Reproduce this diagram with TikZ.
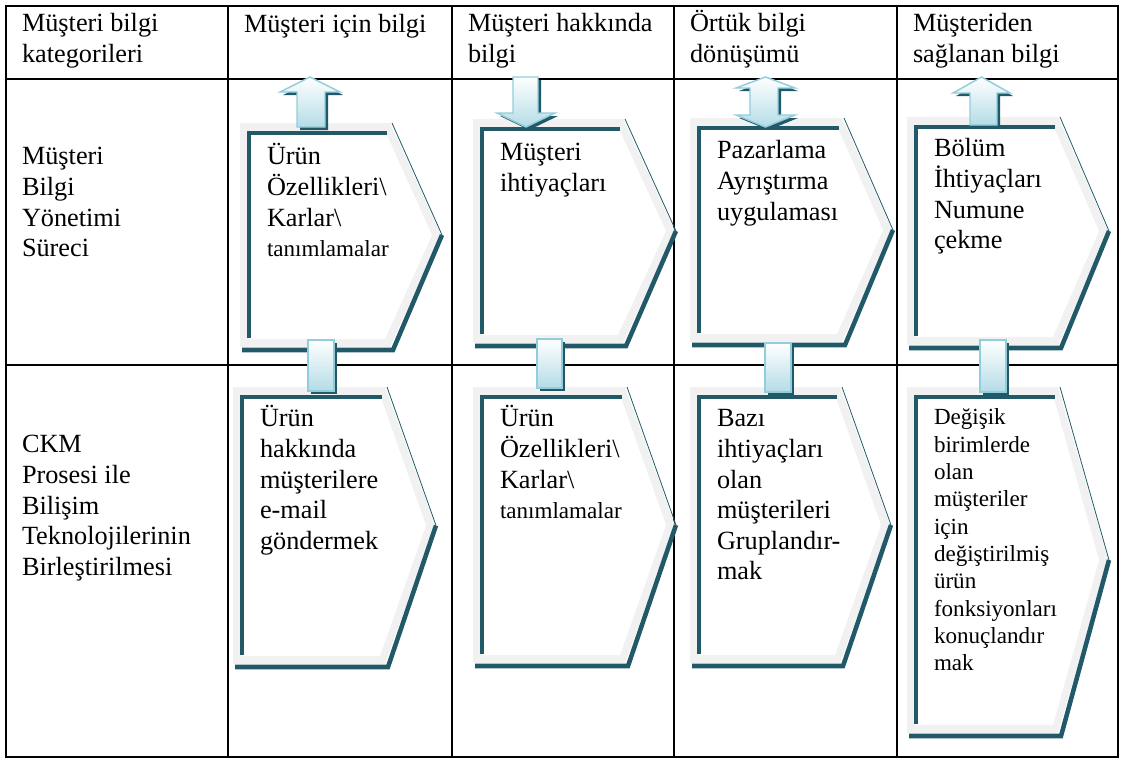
\documentclass[tikz,border=0pt]{standalone}
\usepackage{fontspec}
\setmainfont{Liberation Serif}
\definecolor{framegray}{HTML}{F1F1F1}
\definecolor{tealdark}{HTML}{215968}
\definecolor{arrowblue}{HTML}{B4DCE7}
\definecolor{arrowedge}{HTML}{92CDDC}

% chevron panel: left, top, flat right, tip x, bottom (outer edge of the grey frame)
\newcommand\chevbox[5]{%
  \pgfmathsetmacro\chmid{(#2+#5)/2}%
  \fill[framegray] (#1,#2) -- (#3,#2) -- (#4,\chmid) -- (#3,#5) -- (#1,#5) -- cycle;
  \fill[white] ({#1+8},{#2+8}) -- ({#3-5},{#2+8}) -- ({#4-9},\chmid) -- ({#3-5},{#5-8}) -- ({#1+8},{#5-8}) -- cycle;
  \draw[tealdark, line width=2.3pt, line join=miter] ({#1+9},{#5-9}) -- ({#1+9},{#2+10}) -- ({#3-3},{#2+10});
  \draw[tealdark, line width=0.6pt] ({#3+2},#2) -- ({#4+1},\chmid);
  \draw[tealdark, line width=3.4pt, line join=miter] ({#4+1},\chmid) -- ({#3+3},{#5+3}) -- ({#1+2},{#5+3});
}
% up arrow: shaft left, shaft right, head left, head right, tip y, head base y, shaft bottom y
\newcommand\arrowup[7]{%
  \pgfmathsetmacro\amid{(#3+#4)/2}%
  \fill[tealdark] ({#1+3},{#7+3}) -- ({#1+3},{#6+3}) -- ({#3+3},{#6+3}) -- ({\amid+3},{#5+3}) -- ({#4+3},{#6+3}) -- ({#2+3},{#6+3}) -- ({#2+3},{#7+3}) -- cycle;
  \shadedraw[arrowfill] (#1,#7) -- (#1,#6) -- (#3,#6) -- (\amid,#5) -- (#4,#6) -- (#2,#6) -- (#2,#7) -- cycle;
}
% down arrow: shaft left, shaft right, head left, head right, shaft top y, head base y, tip y
\newcommand\arrowdown[7]{%
  \pgfmathsetmacro\amid{(#3+#4)/2}%
  \fill[tealdark] ({#1+3},{#5+3}) -- ({#2+3},{#5+3}) -- ({#2+3},{#6+3}) -- ({#4+3},{#6+3}) -- ({\amid+3},{#7+3}) -- ({#3+3},{#6+3}) -- ({#1+3},{#6+3}) -- cycle;
  \shadedraw[arrowfill] (#1,#5) -- (#2,#5) -- (#2,#6) -- (#4,#6) -- (\amid,#7) -- (#3,#6) -- (#1,#6) -- cycle;
}
% double arrow: shaft left, shaft right, head left, head right, top tip, top base, bottom base, bottom tip
\newcommand\arrowboth[8]{%
  \pgfmathsetmacro\amid{(#3+#4)/2}%
  \fill[tealdark] ({#1+3},{#6+3}) -- ({#3+3},{#6+3}) -- ({\amid+3},{#5+3}) -- ({#4+3},{#6+3}) -- ({#2+3},{#6+3}) -- ({#2+3},{#7+3}) -- ({#4+3},{#7+3}) -- ({\amid+3},{#8+3}) -- ({#3+3},{#7+3}) -- ({#1+3},{#7+3}) -- cycle;
  \shadedraw[arrowfill] (#1,#6) -- (#3,#6) -- (\amid,#5) -- (#4,#6) -- (#2,#6) -- (#2,#7) -- (#4,#7) -- (\amid,#8) -- (#3,#7) -- (#1,#7) -- cycle;
}
% connecting bar: left, top, right, bottom
\newcommand\connbar[4]{%
  \fill[tealdark] ({#1+3},{#2+3}) rectangle ({#3+3},{#4+3});
  \shadedraw[arrowfill] (#1,#2) rectangle (#3,#4);
}

\begin{document}
\begin{tikzpicture}[x=0.75pt, y=-0.75pt,
  grid/.style={line width=1.9pt},
  arrowfill/.style={top color=white, bottom color=arrowblue, draw=arrowedge, line width=1.1pt, line join=miter},
  % nodes are placed by the baseline of their last line
  txt/.style={anchor=base west, inner sep=0pt, outer sep=0pt, align=left,
              font=\fontsize{19.7pt}{22.9pt}\selectfont},
  smalltxt/.style={txt, font=\fontsize{17.3pt}{20.5pt}\selectfont}]
\useasboundingbox (0,0) rectangle (1121,760);
\def\ls{30.53}  % line pitch of the main text
\def\lss{27.33} % line pitch of the small text

% table grid
\draw[grid] (6,6) rectangle (1118,757);
\draw[grid] (6,79) -- (1118,79);
\draw[grid] (6,365) -- (1118,365);
\foreach \cx in {228,452,674,897} \draw[grid] (\cx,6) -- (\cx,757);

% header row
\node[txt] (h1) at (22,{32+\ls}) {Müşteri bilgi\\kategorileri};
\node[txt] (h2) at (244,32) {Müşteri için bilgi};
\node[txt] (h3) at (468,{32+\ls}) {Müşteri hakkında\\bilgi};
\node[txt] (h4) at (690,{32+\ls}) {Örtük bilgi\\dönüşümü};
\node[txt] (h5) at (913,{32+\ls}) {Müşteriden\\sağlanan bilgi};

% row titles
\node[txt] (r1) at (22,{165+3*\ls}) {Müşteri\\Bilgi\\Yönetimi\\Süreci};
\node[txt] (r2) at (22,{453+4*\ls}) {CKM\\Prosesi ile\\Bilişim\\Teknolojilerinin\\Birleştirilmesi};

% chevron panels
\chevbox{240}{123}{390}{441}{347}
\chevbox{473}{119}{623}{675}{343}
\chevbox{690}{118}{842}{892}{342}
\chevbox{907}{117}{1058}{1108}{345}
\chevbox{233}{387}{385}{435}{664}
\chevbox{473}{387}{625}{675}{663}
\chevbox{690}{387}{840}{890}{663}
\chevbox{907}{387}{1058}{1108}{733}

% flow arrows at the top of the panels
\arrowup{297}{325}{280}{340}{77}{92}{127}
\arrowdown{513}{538}{497}{555}{77}{113}{127}
\arrowboth{750}{778}{736}{795}{77}{88}{115}{127}
\arrowup{970}{997}{953}{1010}{77}{93}{125}

% bars linking the two rows
\connbar{308}{340}{334}{391}
\connbar{537}{339}{562}{388}
\connbar{765}{343}{791}{392}
\connbar{980}{340}{1006}{392}

% panel texts
\node[txt] (p21) at (267,{165+3*\ls}) {Ürün\\Özellikleri\textbackslash\\Karlar\textbackslash\\{\fontsize{17.3pt}{22.9pt}\selectfont tanımlamalar}};
\node[txt] (p31) at (500,{161+\ls}) {Müşteri\\ihtiyaçları};
\node[txt] (p41) at (717,{159+2*\ls}) {Pazarlama\\Ayrıştırma\\uygulaması};
\node[txt] (p51) at (934,{157+3*\ls}) {Bölüm\\İhtiyaçları\\Numune\\çekme};
\node[txt] (p22) at (260,{427+4*\ls}) {Ürün\\hakkında\\müşterilere\\e-mail\\göndermek};
\node[txt] (p32) at (500,{427+3*\ls}) {Ürün\\Özellikleri\textbackslash\\Karlar\textbackslash\\{\fontsize{17.3pt}{22.9pt}\selectfont tanımlamalar}};
\node[txt] (p42) at (717,{427+5*\ls}) {Bazı\\ihtiyaçları\\olan\\müşterileri\\Gruplandır-\\mak};
\node[smalltxt] (p52) at (934,{425+9*\lss}) {Değişik\\birimlerde\\olan\\müşteriler\\için\\değiştirilmiş\\ürün\\fonksiyonları\\konuçlandır\\mak};
\end{tikzpicture}
\end{document}
